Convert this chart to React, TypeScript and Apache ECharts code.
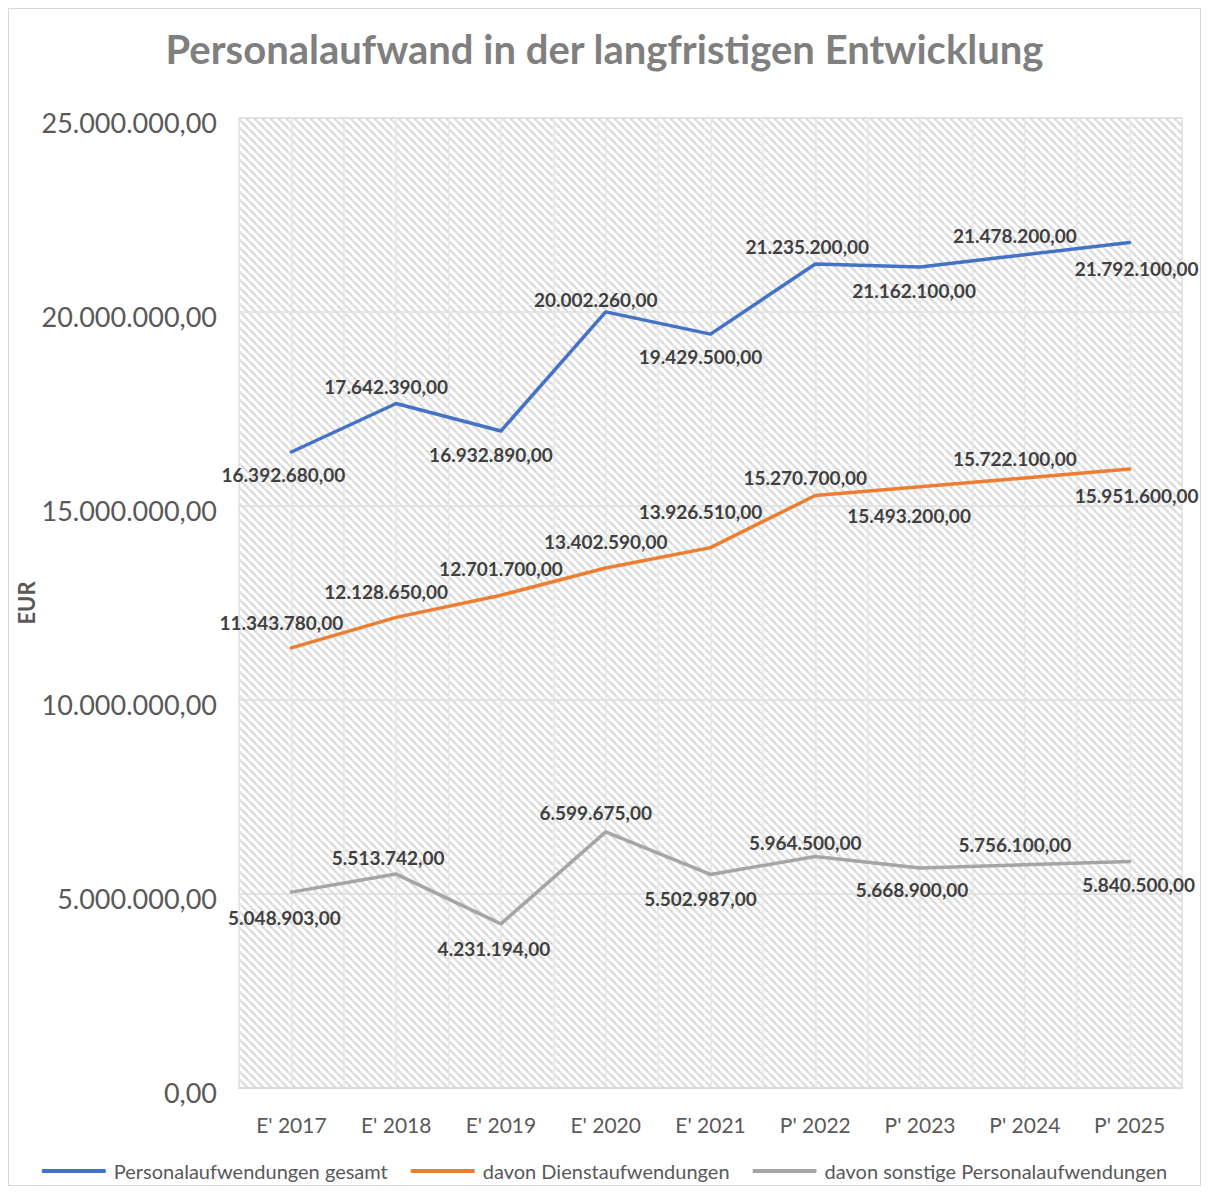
import React, { useEffect, useRef } from "react";
import * as echarts from "echarts";

const categories = ["E' 2017", "E' 2018", "E' 2019", "E' 2020", "E' 2021", "P' 2022", "P' 2023", "P' 2024", "P' 2025"];
const gesamt = [16392680, 17642390, 16932890, 20002260, 19429500, 21235200, 21162100, 21478200, 21792100];
const dienst = [11343780, 12128650, 12701700, 13402590, 13926510, 15270700, 15493200, 15722100, 15951600];
const sonstige = [5048903, 5513742, 4231194, 6599675, 5502987, 5964500, 5668900, 5756100, 5840500];
const seriesNames = ["Personalaufwendungen gesamt", "davon Dienstaufwendungen", "davon sonstige Personalaufwendungen"];
const yTicks = { min: 0, max: 25000000, interval: 5000000 };

// label placement offsets [dx, dy] in px relative to each point
const offGesamt = [[-8, 23], [-10, -17], [-10, 23], [-10, -12], [-10, 22], [-8, -18], [-6, 24], [-10, -19], [7, 26]];
const offDienst = [[-10, -25], [-10, -26], [0, -27], [0, -26], [-10, -36], [-10, -18], [-11, 29], [-10, -19], [7, 26]];
const offSonstige = [[-7, 25], [-8, -17], [-7, 25], [-10, -19], [-10, 24], [-10, -14], [-8, 21], [-10, -20], [9, 23]];

function fmt(v: number): string {
  const [i, d] = v.toFixed(2).split(".");
  return i.replace(/\B(?=(\d{3})+(?!\d))/g, ".") + "," + d;
}

function makeHatch(): HTMLCanvasElement {
  const s = 8;
  const c = document.createElement("canvas");
  c.width = s;
  c.height = s;
  const ctx = c.getContext("2d")!;
  ctx.fillStyle = "#ffffff";
  ctx.fillRect(0, 0, s, s);
  ctx.strokeStyle = "#dcdcdc";
  ctx.lineWidth = 2.4;
  for (const x0 of [-s, 0, s]) {
    ctx.beginPath();
    ctx.moveTo(x0, 0);
    ctx.lineTo(x0 + s, s);
    ctx.stroke();
  }
  return c;
}

export default function App() {
  const ref = useRef<HTMLDivElement>(null);
  useEffect(() => {
    if (!ref.current) return;
    const chart = echarts.init(ref.current, null, { renderer: "svg" });
    const mk = (vals: number[], offs: number[][]) =>
      vals.map((v, i) => ({
        value: v,
        label: { position: "inside", offset: offs[i] },
      }));
    const labelStyle = {
      show: true,
      fontFamily: "Lato",
      fontWeight: "bold",
      fontSize: 19,
      color: "#404040",
      formatter: (p: any) => fmt(p.value),
    };
    const colors = ["#4472C4", "#ED7D31", "#A5A5A5"];
    const datasets = [
      { vals: gesamt, offs: offGesamt },
      { vals: dienst, offs: offDienst },
      { vals: sonstige, offs: offSonstige },
    ];
    chart.setOption({
      animation: false,
      color: colors,
      title: {
        text: "Personalaufwand in der langfristigen Entwicklung",
        left: "center",
        top: 15,
        textStyle: { fontFamily: "Lato", fontWeight: "bold", fontSize: 40, color: "#7f7f7f" },
      },
      legend: {
        bottom: -1,
        left: "center",
        icon: "roundRect",
        itemWidth: 64,
        itemHeight: 4,
        itemGap: 23,
        textStyle: { fontFamily: "Lato", fontSize: 20, color: "#595959", padding: [0, 0, 0, 3] },
        data: seriesNames,
      },
      grid: {
        left: 230,
        top: 109,
        width: 943,
        height: 970,
        outerBoundsMode: "none",
        containLabel: false,
        show: true,
        borderColor: "#e3e3e3",
        borderWidth: 1.5,
        backgroundColor: { image: makeHatch(), repeat: "repeat" },
      },
      xAxis: [
        {
          type: "category",
          data: categories,
          boundaryGap: true,
          axisLine: { show: true, lineStyle: { color: "#d9d9d9", width: 1.5 } },
          axisTick: { show: false },
          splitLine: { show: false },
          axisLabel: { margin: 26, fontFamily: "Lato", fontSize: 21, color: "#595959" },
        },
        {
          type: "value",
          min: 0,
          max: categories.length * 2,
          interval: 1,
          position: "bottom",
          axisLine: { show: false },
          axisTick: { show: false },
          axisLabel: { show: false },
          splitLine: { show: true, lineStyle: { color: "#e6e6e6", width: 1.5 } },
        },
      ],
      yAxis: {
        type: "value",
        min: yTicks.min,
        max: yTicks.max,
        interval: yTicks.interval,
        name: "EUR",
        nameLocation: "middle",
        nameRotate: 90,
        nameGap: 202,
        nameMoveOverlap: false,
        nameTextStyle: { fontFamily: "Lato", fontWeight: "bold", fontSize: 22, color: "#595959" },
        axisLine: { show: false },
        axisTick: { show: false },
        splitLine: { show: true, lineStyle: { color: "#dedede", width: 1.5 } },
        axisLabel: {
          margin: 22,
          fontFamily: "Lato",
          fontSize: 27,
          color: "#595959",
          verticalAlign: "top",
          lineHeight: 8,
          formatter: (v: number) => fmt(v),
        },
      },
      series: datasets.map((d, k) => ({
        name: seriesNames[k],
        type: "line",
        xAxisIndex: 0,
        data: mk(d.vals, d.offs),
        showSymbol: true,
        symbol: "circle",
        symbolSize: 1,
        itemStyle: { color: colors[k] },
        lineStyle: { width: 3.5, color: colors[k], cap: "round", join: "round" },
        label: labelStyle,
        z: 3 - k + 2,
      })),
    });
    return () => chart.dispose();
  }, []);
  return (
    <div style={{ width: 1191, height: 1176, border: "1px solid #d9d9d9" }}>
      <div ref={ref} style={{ width: 1191, height: 1176 }} />
    </div>
  );
}
